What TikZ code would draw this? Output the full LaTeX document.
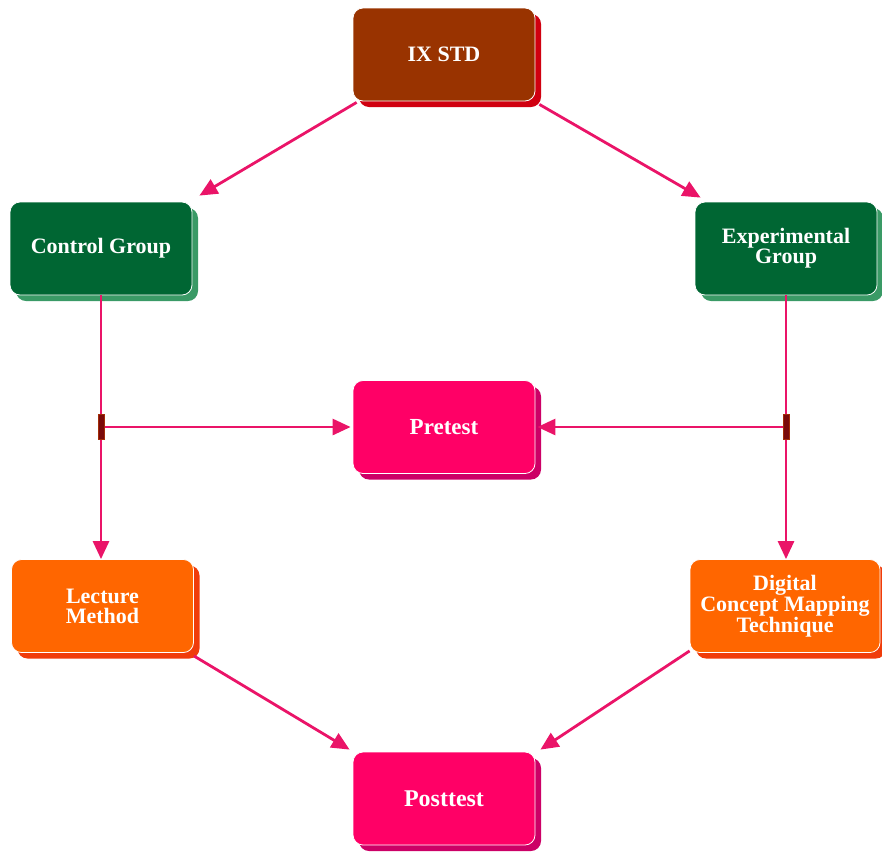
\documentclass[tikz,border=0pt]{standalone}
\usepackage{fontspec}
\setmainfont{Liberation Serif}
\usetikzlibrary{arrows.meta,shadows,calc}

\definecolor{brownfront}{HTML}{993300}
\definecolor{brownshade}{HTML}{D00010}
\definecolor{greenfront}{HTML}{006633}
\definecolor{greenshade}{HTML}{3A9A66}
\definecolor{pinkfront}{HTML}{FF0066}
\definecolor{pinkshade}{HTML}{CC0066}
\definecolor{orangefront}{HTML}{FF6600}
\definecolor{orangeshade}{HTML}{F03C0A}
\definecolor{linkcol}{HTML}{EA1468}
\definecolor{tickcol}{HTML}{7A0A0A}

\tikzset{
  box/.style={rectangle, rounded corners=10pt, draw=white, line width=0.8pt,
    text=white, font=\bfseries\fontsize{22}{20}\selectfont, align=center,
    minimum width=182pt, minimum height=93pt, inner sep=4pt},
  brownbox/.style={box, fill=brownfront,
    copy shadow={shadow xshift=6pt, shadow yshift=-6pt, fill=brownshade, draw=none}},
  greenbox/.style={box, fill=greenfront,
    copy shadow={shadow xshift=6pt, shadow yshift=-6pt, fill=greenshade, draw=none}},
  pinkbox/.style={box, fill=pinkfront,
    copy shadow={shadow xshift=6pt, shadow yshift=-6pt, fill=pinkshade, draw=none}},
  orangebox/.style={box, fill=orangefront,
    copy shadow={shadow xshift=6pt, shadow yshift=-6pt, fill=orangeshade, draw=none}},
  link/.style={draw=linkcol, line width=2.8pt,
    -{Triangle[length=18pt,width=16pt]}},
  tick/.style={rectangle, fill=tickcol, draw=tickcol!70!orange, line width=0.4pt,
    minimum width=6pt, minimum height=25pt, inner sep=0pt}
}

\begin{document}
\begin{tikzpicture}[x=1pt, y=-1pt]
  \useasboundingbox (0,0) rectangle (882,852);

  % boxes
  \node[brownbox]  (ix)   at (444,54.5) {IX STD};
  \node[greenbox]  (cg)   at (101,248.5) {Control Group};
  \node[greenbox]  (eg)   at (786,248.5) {Experimental\\Group};
  \node[pinkbox, font=\bfseries\fontsize{23}{20}\selectfont] (pre) at (444,427) {Pretest};
  \node[orangebox] (lec)  at (102.5,606) {Lecture\\Method};
  \node[orangebox, minimum width=190pt] (dig) at (785,606) {Digital\\Concept Mapping\\Technique};
  \node[pinkbox, font=\bfseries\fontsize{24}{20}\selectfont] (post) at (444,798.5) {Posttest};

  % junction markers on the two vertical branches
  \coordinate (jl) at (cg.south |- pre.west);
  \coordinate (jr) at (eg.south |- pre.east);

  % connectors
  \draw[link] ($(ix.south west)+(4,1)$) -- ($(cg.north east)+(7,-6)$);
  \draw[link] ($(ix.south east)+(4,3)$) -- ($(eg.north west)+(6,-4)$);

  \draw[link] (cg.south) -- (cg.south |- lec.north);
  \draw[link] (eg.south) -- (eg.south |- dig.north);

  \draw[link] (jl) -- ($(pre.west)+(-2,0)$);
  \draw[link] (jr) -- ($(pre.east)+(2,0)$);

  \draw[link] ($(lec.south east)+(0,3)$) -- ($(post.north west)+(-3,-2)$);
  \draw[link] ($(dig.south west)+(0,-2)$) -- ($(post.north east)+(5,-2)$);

  \node[tick] (tl) at (jl) {};
  \node[tick] (tr) at (jr) {};
\end{tikzpicture}
\end{document}
